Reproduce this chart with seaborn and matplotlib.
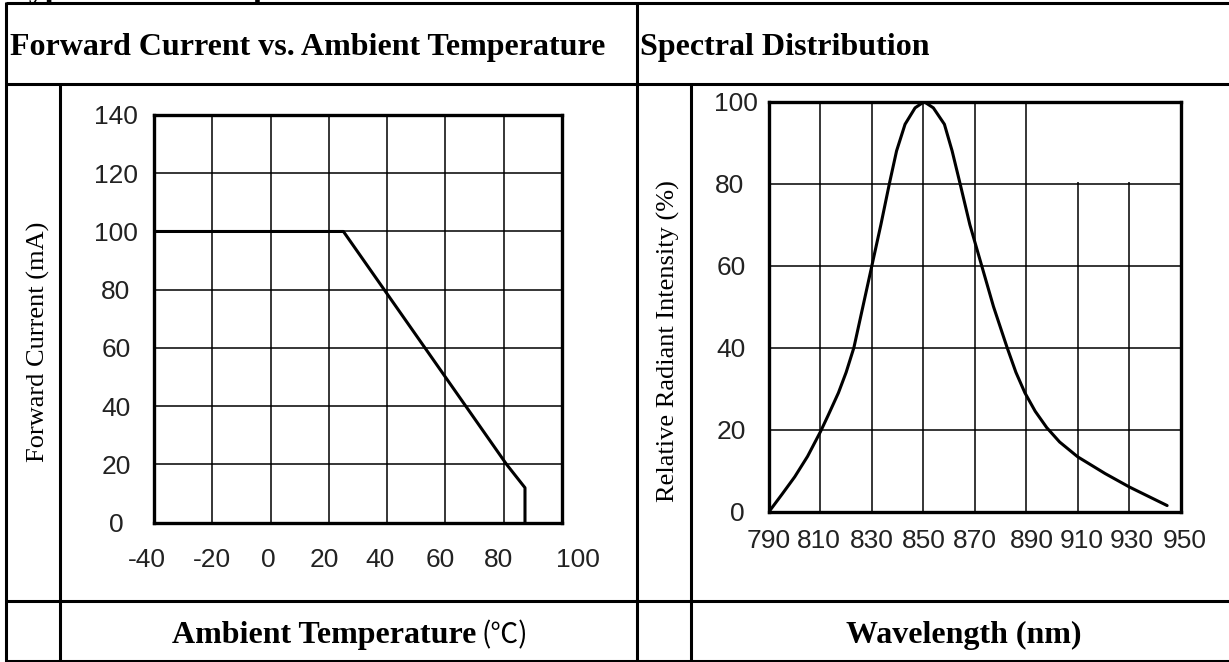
# LED datasheet curves: forward current derating + spectral distribution
import matplotlib
matplotlib.use("Agg")
import matplotlib.pyplot as plt
import seaborn as sns
from matplotlib.patches import Rectangle
from matplotlib.transforms import ScaledTranslation

# forward current vs ambient temperature
temp_c = [-40, 25, 81, 87.3, 87.3]
current_ma = [100, 100, 20, 12, 0]
temp_ticks = [-40, -20, 0, 20, 40, 60, 80, 100]
current_ticks = [0, 20, 40, 60, 80, 100, 120, 140]

# spectral distribution (IF=20mA, Ta=25C)
wavelength_nm = [790, 795, 800, 805, 810, 813, 817, 820, 823, 826.5,
                 830, 833.5, 836.8, 839.6, 842.9, 846.8, 850.3, 853.9, 858.2, 861.2,
                 864.3, 868.1, 872.7, 877.3, 882.6, 886, 889.5, 893.5, 898, 903,
                 910, 920.7, 930.2, 944.8]
intensity_pct = [0, 4.2, 8.5, 13.5, 19.5, 23.5, 29, 34, 40, 50,
                 60, 70, 80, 88, 94.5, 98.5, 100, 98.5, 94.5, 88,
                 80, 70, 60, 50, 40, 34, 29, 24.5, 20.5, 17,
                 13.4, 9.3, 6.0, 1.5]
wl_ticks = [790, 810, 830, 850, 870, 890, 910, 930, 950]
int_ticks = [0, 20, 40, 60, 80, 100]

sns.set_theme(style="white")
plt.rcParams["font.family"] = ["Liberation Serif", "DejaVu Serif"]
plt.rcParams["axes.unicode_minus"] = False

W, H = 1229, 662
fig = plt.figure(figsize=(W / 100, H / 100), dpi=100)

# table frame in pixel coords
bg = fig.add_axes([0, 0, 1, 1])
bg.set_xlim(0, W)
bg.set_ylim(H, 0)
bg.axis("off")
tl = dict(color="black", lw=2.2, solid_capstyle="butt")
for y in [3, 83.5, 600.7, 660.8]:
    bg.plot([6, W], [y, y], **tl)
bg.plot([6, 6], [2, 662], **tl)
bg.plot([636.7, 636.7], [2, 662], **tl)
bg.plot([60, 60], [83.5, 662], **tl)
bg.plot([690.7, 690.7], [83.5, 662], **tl)

bold = dict(fontsize=23, fontweight="bold", va="baseline", color="black")
bg.text(10, -3, "Typical Electro-Optical Characteristics Curves", ha="left", **bold)
bg.text(10, 55, "Forward Current vs. Ambient Temperature", ha="left", **bold)
bg.text(640, 55, "Spectral Distribution", ha="left", **bold)
bg.text(476, 643, "Ambient Temperature", ha="right", **bold)
bg.text(481, 643, "(℃)", ha="left", va="baseline", fontsize=20,
        family=["Noto Sans CJK SC", "DejaVu Sans"], color="black")
bg.text(964, 643, "Wavelength (nm)", ha="center", **bold)

bg.text(38, 342, "Forward Current (mA)", rotation=90, fontsize=19,
        ha="center", va="center", color="black")
bg.text(668, 341, "Relative Radiant Intensity (%)", rotation=90, fontsize=19,
        ha="center", va="center", color="black")
bg.text(1063, 120, "IF=20mA", fontsize=15, ha="left", va="center", color="#111")
bg.text(1063, 147, "Ta=25° C", fontsize=15, ha="left", va="center", color="#111")

tick_font = ["Liberation Sans", "DejaVu Sans"]


def style_axes(ax):
    ax.set_facecolor("white")
    ax.grid(True, color="black", lw=1.1)
    ax.set_axisbelow(True)
    for s in ax.spines.values():
        s.set_visible(True)
        s.set_color("black")
        s.set_linewidth(2.4)
    ax.tick_params(length=0, labelsize=19, labelcolor="#222")
    for lab in ax.get_xticklabels() + ax.get_yticklabels():
        lab.set_family(tick_font)
    ax.set_xlabel("")
    ax.set_ylabel("")


def shift_labels(labels, dxs, fig, axis="x"):
    for lab, d in zip(labels, dxs):
        if axis == "x":
            off = ScaledTranslation(d / 100, 0, fig.dpi_scale_trans)
        else:
            off = ScaledTranslation(0, d / 100, fig.dpi_scale_trans)
        lab.set_transform(lab.get_transform() + off)


# left chart
ax1 = fig.add_axes([154 / W, 1 - 522.7 / H, 408 / W, 407.7 / H])
sns.lineplot(x=temp_c, y=current_ma, ax=ax1, sort=False, estimator=None,
             color="black", lw=2.2)
ax1.set_xlim(-40, 100)
ax1.set_ylim(0, 140)
ax1.set_xticks(temp_ticks)
ax1.set_yticks(current_ticks)
style_axes(ax1)
ax1.tick_params(axis="y", pad=27.4)
ax1.tick_params(axis="x", pad=26.6)
for lab in ax1.get_yticklabels():
    lab.set_ha("center")
for lab in ax1.get_xticklabels():
    lab.set_va("center")

# right chart
ax2 = fig.add_axes([769 / W, 1 - 511.7 / H, 411.5 / W, 410 / H])
sns.lineplot(x=wavelength_nm, y=intensity_pct, ax=ax2, sort=False, estimator=None,
             color="black", lw=2.2)
ax2.set_xlim(790, 950)
ax2.set_ylim(0, 100)
ax2.set_xticks(wl_ticks)
ax2.set_yticks(int_ticks)
style_axes(ax2)
ax2.add_patch(Rectangle((890.4, 80.3), 60, 20, facecolor="white",
                        edgecolor="none", zorder=1))
ax2.tick_params(axis="y", pad=26)
ax2.tick_params(axis="x", pad=21)
for lab in ax2.get_yticklabels():
    lab.set_ha("center")
for lab in ax2.get_xticklabels():
    lab.set_va("center")

# the scanned labels sit a little off the grid
shift_labels(ax1.get_xticklabels(), [-7, 0, -2, -5, -7, -5, -5, 16], fig)
shift_labels(ax2.get_xticklabels(), [0, -1.5, 0, 0, 0.5, 6, 4, 3, 4], fig)
shift_labels(ax2.get_yticklabels(), [4, -2, -2, -2, -3, 3], fig)

fig.savefig("out.png", dpi=100)
